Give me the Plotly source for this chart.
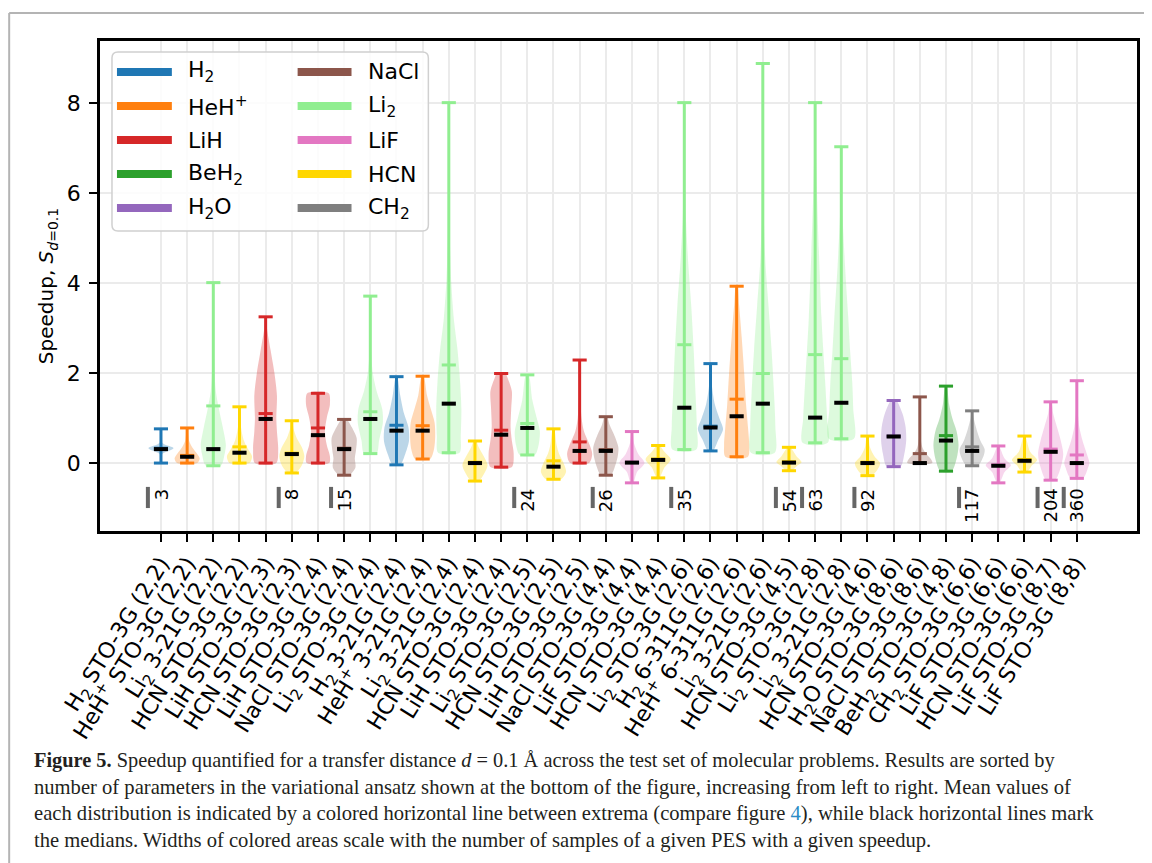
import plotly.graph_objects as go

# ---------------- data ----------------
molecules = ["H2", "HeH+", "Li2", "HCN", "LiH", "HCN", "LiH", "NaCl", "Li2", "H2", "HeH+", "Li2",
             "HCN", "LiH", "Li2", "HCN", "LiH", "NaCl", "LiF", "HCN", "Li2", "H2", "HeH+", "Li2",
             "HCN", "Li2", "Li2", "HCN", "H2O", "NaCl", "BeH2", "CH2", "LiF", "HCN", "LiF", "LiF"]
basis = ["STO-3G", "STO-3G", "3-21G", "STO-3G", "STO-3G", "STO-3G", "STO-3G", "STO-3G", "STO-3G",
         "3-21G", "3-21G", "3-21G", "STO-3G", "STO-3G", "STO-3G", "STO-3G", "STO-3G", "STO-3G",
         "STO-3G", "STO-3G", "STO-3G", "6-311G", "6-311G", "3-21G", "STO-3G", "STO-3G", "3-21G",
         "STO-3G", "STO-3G", "STO-3G", "STO-3G", "STO-3G", "STO-3G", "STO-3G", "STO-3G", "STO-3G"]
active = ["(2,2)", "(2,2)", "(2,2)", "(2,2)", "(2,3)", "(2,3)", "(2,4)", "(2,4)", "(2,4)", "(2,4)",
          "(2,4)", "(2,4)", "(2,4)", "(2,4)", "(2,5)", "(2,5)", "(2,5)", "(4,4)", "(4,4)", "(4,4)",
          "(2,6)", "(2,6)", "(2,6)", "(2,6)", "(4,5)", "(2,8)", "(2,8)", "(4,6)", "(8,6)", "(8,6)",
          "(4,8)", "(6,6)", "(6,6)", "(6,6)", "(8,7)", "(8,8)"]

s_min = [0.0, 0.0, -0.06, 0.0, 0.0, -0.22, 0.0, -0.27, 0.21, -0.04, 0.09, 0.23,
         -0.40, -0.09, 0.18, -0.36, 0.0, -0.27, -0.44, -0.33, 0.30, 0.27, 0.14, 0.23,
         -0.17, 0.45, 0.54, -0.28, -0.08, 0.0, -0.18, -0.06, -0.44, -0.20, -0.38, -0.34]
s_max = [0.76, 0.78, 4.01, 1.25, 3.25, 0.94, 1.55, 0.97, 3.71, 1.92, 1.93, 8.01,
         0.49, 1.99, 1.96, 0.76, 2.29, 1.03, 0.70, 0.39, 8.01, 2.21, 3.93, 8.88,
         0.35, 8.01, 7.03, 0.60, 1.39, 1.47, 1.71, 1.16, 0.38, 0.60, 1.36, 1.83]
s_mean = [0.33, 0.17, 1.27, 0.36, 1.10, 0.22, 0.78, 0.33, 1.14, 0.84, 0.83, 2.18,
          0.02, 0.73, 0.88, 0.05, 0.47, 0.30, 0.02, 0.09, 2.63, 0.82, 1.42, 1.99,
          0.03, 2.41, 2.32, 0.02, 0.60, 0.21, 0.61, 0.36, -0.04, 0.08, 0.31, 0.18]
s_median = [0.31, 0.14, 0.31, 0.23, 0.98, 0.20, 0.62, 0.31, 0.98, 0.72, 0.72, 1.32,
            0.00, 0.63, 0.78, -0.08, 0.27, 0.27, 0.01, 0.07, 1.23, 0.79, 1.04, 1.32,
            0.01, 1.01, 1.34, 0.00, 0.59, 0.00, 0.50, 0.27, -0.06, 0.05, 0.25, 0.00]

# violin outline: (speedup, relative half-width)
profiles = [
    [(0.0, 0.02), (0.2, 0.1), (0.33, 1.0), (0.45, 0.1), (0.76, 0.02)],
    [(0.0, 0.8), (0.1, 1.0), (0.2, 0.8), (0.35, 0.4), (0.5, 0.15), (0.78, 0.02)],
    [(-0.06, 0.6), (0.2, 0.9), (0.4, 1.0), (0.8, 0.75), (1.2, 0.45), (1.6, 0.2), (2.2, 0.08), (3.0, 0.03), (4.01, 0.01)],
    [(0.0, 0.8), (0.15, 1.0), (0.3, 0.7), (0.5, 0.35), (0.8, 0.12), (1.25, 0.02)],
    [(0.0, 0.85), (0.3, 1.0), (0.7, 0.9), (1.0, 0.85), (1.5, 0.9), (2.0, 0.7), (2.5, 0.4), (3.0, 0.1), (3.25, 0.03)],
    [(-0.22, 0.3), (-0.05, 0.8), (0.15, 1.0), (0.35, 0.8), (0.55, 0.4), (0.75, 0.15), (0.94, 0.03)],
    [(0.0, 0.9), (0.15, 0.95), (0.4, 0.7), (0.7, 0.55), (1.0, 0.7), (1.3, 0.95), (1.55, 0.85)],
    [(-0.27, 0.4), (-0.1, 0.9), (0.1, 0.85), (0.3, 0.95), (0.55, 1.0), (0.8, 0.6), (0.97, 0.2)],
    [(0.21, 0.5), (0.5, 0.7), (0.9, 1.0), (1.2, 0.95), (1.6, 0.5), (2.0, 0.2), (2.5, 0.06), (3.0, 0.02), (3.71, 0.01)],
    [(-0.04, 0.3), (0.2, 0.7), (0.5, 1.0), (0.8, 0.95), (1.1, 0.6), (1.5, 0.3), (1.92, 0.05)],
    [(0.09, 0.6), (0.3, 0.9), (0.6, 1.0), (0.9, 0.95), (1.2, 0.65), (1.5, 0.35), (1.93, 0.08)],
    [(0.23, 0.85), (0.6, 0.95), (1.2, 1.0), (1.8, 0.9), (2.5, 0.7), (3.2, 0.4), (4.0, 0.2), (5.0, 0.08), (6.0, 0.03), (8.01, 0.01)],
    [(-0.40, 0.3), (-0.2, 0.8), (-0.05, 1.0), (0.15, 0.7), (0.35, 0.3), (0.49, 0.1)],
    [(-0.09, 0.85), (0.2, 1.0), (0.5, 0.85), (0.8, 0.75), (1.2, 0.8), (1.6, 0.85), (1.9, 0.5), (1.99, 0.35)],
    [(0.18, 0.6), (0.4, 0.9), (0.7, 1.0), (1.0, 0.75), (1.4, 0.4), (1.96, 0.1)],
    [(-0.36, 0.6), (-0.2, 1.0), (0.0, 0.8), (0.2, 0.45), (0.4, 0.25), (0.76, 0.05)],
    [(0.0, 0.75), (0.2, 1.0), (0.4, 0.8), (0.7, 0.35), (1.0, 0.15), (1.5, 0.06), (2.29, 0.02)],
    [(-0.27, 0.4), (-0.1, 0.7), (0.15, 0.95), (0.35, 1.0), (0.6, 0.7), (0.85, 0.3), (1.03, 0.1)],
    [(-0.44, 0.1), (-0.2, 0.4), (0.0, 1.0), (0.2, 0.5), (0.45, 0.15), (0.70, 0.03)],
    [(-0.33, 0.1), (-0.1, 0.5), (0.08, 1.0), (0.25, 0.5), (0.39, 0.1)],
    [(0.30, 0.95), (0.8, 1.0), (1.5, 0.9), (2.5, 0.75), (3.5, 0.55), (4.5, 0.3), (5.5, 0.12), (6.5, 0.04), (8.01, 0.01)],
    [(0.27, 0.2), (0.5, 0.6), (0.75, 1.0), (1.0, 0.7), (1.3, 0.35), (1.7, 0.12), (2.21, 0.02)],
    [(0.14, 0.9), (0.4, 1.0), (0.8, 0.9), (1.3, 0.75), (2.0, 0.6), (2.8, 0.4), (3.5, 0.2), (3.93, 0.05)],
    [(0.23, 0.95), (0.8, 1.0), (1.5, 0.9), (2.5, 0.7), (3.5, 0.45), (4.5, 0.2), (5.5, 0.08), (7.0, 0.02), (8.88, 0.01)],
    [(-0.17, 0.2), (-0.05, 0.7), (0.02, 1.0), (0.15, 0.6), (0.35, 0.1)],
    [(0.45, 1.0), (1.0, 0.95), (1.8, 0.8), (2.5, 0.65), (3.25, 0.5), (4.7, 0.3), (6.2, 0.13), (7.2, 0.05), (8.01, 0.01)],
    [(0.54, 1.0), (1.2, 0.95), (1.8, 0.87), (2.5, 0.7), (3.25, 0.55), (4.36, 0.3), (5.5, 0.1), (6.2, 0.04), (7.03, 0.01)],
    [(-0.28, 0.35), (-0.1, 0.9), (0.0, 1.0), (0.15, 0.55), (0.35, 0.2), (0.60, 0.05)],
    [(-0.08, 0.55), (0.2, 0.85), (0.5, 1.0), (0.8, 0.95), (1.1, 0.7), (1.39, 0.2)],
    [(0.0, 1.0), (0.1, 0.85), (0.2, 0.5), (0.35, 0.2), (0.6, 0.05), (1.47, 0.01)],
    [(-0.18, 0.45), (0.1, 0.85), (0.4, 1.0), (0.7, 0.85), (1.0, 0.5), (1.3, 0.25), (1.71, 0.05)],
    [(-0.06, 0.45), (0.15, 0.9), (0.3, 1.0), (0.5, 0.65), (0.75, 0.35), (1.0, 0.12), (1.16, 0.03)],
    [(-0.44, 0.1), (-0.2, 0.5), (-0.05, 1.0), (0.1, 0.5), (0.38, 0.05)],
    [(-0.20, 0.2), (-0.05, 0.6), (0.07, 1.0), (0.25, 0.45), (0.60, 0.05)],
    [(-0.38, 0.35), (-0.1, 0.8), (0.2, 1.0), (0.5, 0.8), (0.8, 0.5), (1.1, 0.2), (1.36, 0.05)],
    [(-0.34, 0.5), (-0.1, 0.9), (0.0, 1.0), (0.2, 0.8), (0.5, 0.45), (0.8, 0.2), (1.2, 0.06), (1.83, 0.01)],
]

# number of ansatz parameters, shown where it changes
param_pos = [0, 5, 7, 14, 17, 20, 24, 25, 27, 31, 34, 35]
param_text = ["3", "8", "15", "24", "26", "35", "54", "63", "92", "117", "204", "360"]

legend_names = ["H2", "HeH+", "LiH", "BeH2", "H2O", "NaCl", "Li2", "LiF", "HCN", "CH2"]
legend_labels = ["H<sub>2</sub>", "HeH<sup>+</sup>", "LiH", "BeH<sub>2</sub>", "H<sub>2</sub>O",
                 "NaCl", "Li<sub>2</sub>", "LiF", "HCN", "CH<sub>2</sub>"]
mol_colors = {"H2": "#1f77b4", "HeH+": "#ff7f0e", "LiH": "#d62728", "BeH2": "#2ca02c",
              "H2O": "#9467bd", "NaCl": "#8c564b", "Li2": "#90ee90", "LiF": "#e377c2",
              "HCN": "#ffd700", "CH2": "#7f7f7f"}
mol_html = dict(zip(legend_names, legend_labels))

y_ticks = [0, 2, 4, 6, 8]

caption_lines = [
    "<b>Figure 5.</b> Speedup quantified for a transfer distance <i>d</i> = 0.1 Å across the test set of molecular problems. Results are sorted by",
    "number of parameters in the variational ansatz shown at the bottom of the figure, increasing from left to right. Mean values of",
    "each distribution is indicated by a colored horizontal line between extrema (compare figure <span style='color:#2a8bc6'>4</span>), while black horizontal lines mark",
    "the medians. Widths of colored areas scale with the number of samples of a given PES with a given speedup.",
]
caption_sizes = [20.35, 20.6, 20.6, 20.6]

# ---------------- geometry helpers (reference pixel coordinates) ----------------
OX, OY = 8, 8            # page body margin of the html page
W, H = 1152 - OX, 863 - OY
L, R, T, B = 100, 1139, 41, 531


def pxx(x):
    return (x - L) / (R - L)


def pxy(y):
    return (B - y) / (B - T)


def rgba(hexc, a):
    h = hexc.lstrip("#")
    return "rgba(%d,%d,%d,%.2f)" % (int(h[0:2], 16), int(h[2:4], 16), int(h[4:6], 16), a)


HW = 0.48   # max half width of violins
CAP = 0.27  # half width of caps

fig = go.Figure()

# violins
for i, prof in enumerate(profiles):
    c = mol_colors[molecules[i]]
    ys = [p[0] for p in prof]
    ws = [p[1] for p in prof]
    xs = [i + w * HW for w in ws] + [i - w * HW for w in ws[::-1]]
    yy = ys + ys[::-1]
    fig.add_trace(go.Scatter(x=xs + [xs[0]], y=yy + [yy[0]], mode="lines", fill="toself",
                             fillcolor=rgba(c, 0.3), line=dict(width=0, shape="spline", smoothing=0.8),
                             hoverinfo="skip", showlegend=False))

# stems, caps and means
for i in range(len(molecules)):
    c = mol_colors[molecules[i]]
    xs = [i, i, None, i - CAP, i + CAP, None, i - CAP, i + CAP, None, i - CAP, i + CAP]
    ys = [s_min[i], s_max[i], None, s_min[i], s_min[i], None, s_max[i], s_max[i], None,
          s_mean[i], s_mean[i]]
    fig.add_trace(go.Scatter(x=xs, y=ys, mode="lines", line=dict(color=c, width=3),
                             hoverinfo="skip", showlegend=False))

# medians
mx, my = [], []
for i in range(len(molecules)):
    mx += [i - CAP, i + CAP, None]
    my += [s_median[i], s_median[i], None]
fig.add_trace(go.Scatter(x=mx, y=my, mode="lines", line=dict(color="black", width=4),
                         hoverinfo="skip", showlegend=False))

shapes = []
annotations = []

# parameter count markers
for p, t in zip(param_pos, param_text):
    shapes.append(dict(type="line", xref="x", yref="y", x0=p - 0.5, x1=p - 0.5, y0=-0.53, y1=-1.0,
                       line=dict(color="#666666", width=4)))
    annotations.append(dict(x=p, y=-0.53, xref="x", yref="y", text=t, showarrow=False,
                            textangle=-90, xanchor="center", yanchor="top",
                            font=dict(family="DejaVu Sans", size=18, color="black")))

# legend (custom, two columns)
lx0, lx1, ly0, ly1, rr = 112, 429, 52, 231, 6
path = ("M %f,%f L %f,%f Q %f,%f %f,%f L %f,%f Q %f,%f %f,%f L %f,%f Q %f,%f %f,%f L %f,%f Q %f,%f %f,%f Z" % (
    pxx(lx0 + rr), pxy(ly0), pxx(lx1 - rr), pxy(ly0), pxx(lx1), pxy(ly0), pxx(lx1), pxy(ly0 + rr),
    pxx(lx1), pxy(ly1 - rr), pxx(lx1), pxy(ly1), pxx(lx1 - rr), pxy(ly1),
    pxx(lx0 + rr), pxy(ly1), pxx(lx0), pxy(ly1), pxx(lx0), pxy(ly1 - rr),
    pxx(lx0), pxy(ly0 + rr), pxx(lx0), pxy(ly0), pxx(lx0 + rr), pxy(ly0)))
shapes.append(dict(type="path", xref="paper", yref="paper", path=path,
                   fillcolor="rgba(255,255,255,0.85)", line=dict(color="#d0d0d0", width=1.5)))
row_y = [72, 106, 140, 174, 208]
col_sw = [(117, 172, 186), (298, 352, 367)]
for k, name in enumerate(legend_names):
    col, row = divmod(k, 5)
    sx0, sx1, tx = col_sw[col]
    yy = row_y[row]
    shapes.append(dict(type="line", xref="paper", yref="paper", x0=pxx(sx0), x1=pxx(sx1),
                       y0=pxy(yy), y1=pxy(yy), line=dict(color=mol_colors[name], width=8)))
    annotations.append(dict(x=pxx(tx), y=pxy(yy), xref="paper", yref="paper", text=legend_labels[k],
                            showarrow=False, xanchor="left", yanchor="middle",
                            font=dict(family="DejaVu Sans", size=22, color="black")))

# page frame (top and left)
shapes.append(dict(type="line", xref="paper", yref="paper", x0=pxx(9), x1=pxx(1160), y0=pxy(13), y1=pxy(13),
                   line=dict(color="#b4b4b4", width=2)))
shapes.append(dict(type="line", xref="paper", yref="paper", x0=pxx(9), x1=pxx(9), y0=pxy(13), y1=pxy(870),
                   line=dict(color="#b4b4b4", width=2)))

# caption
cap_y = [760, 787, 813, 840]
for line, yy, fs in zip(caption_lines, cap_y, caption_sizes):
    annotations.append(dict(x=pxx(32), y=pxy(yy), xref="paper", yref="paper", text=line,
                            showarrow=False, xanchor="left", yanchor="middle",
                            font=dict(family="Liberation Serif", size=fs, color="#231f20")))

ticktext = ["%s %s %s" % (mol_html[m], b, a) for m, b, a in zip(molecules, basis, active)]

fig.update_layout(
    width=W, height=H,
    margin=dict(l=L - OX, r=1152 - R, t=T - OY, b=(863 - B)),
    paper_bgcolor="white", plot_bgcolor="white",
    showlegend=False,
    shapes=shapes, annotations=annotations,
    font=dict(family="DejaVu Sans", color="black"),
)
fig.update_xaxes(range=[-2.33, 37.30], tickmode="array", tickvals=list(range(len(molecules))),
                 ticktext=ticktext, tickangle=-58, tickfont=dict(size=22, family="DejaVu Sans"),
                 ticks="outside", ticklen=8, tickwidth=2, tickcolor="black",
                 showgrid=True, gridcolor="#ebebeb", gridwidth=1.5, zeroline=False,
                 showline=True, linecolor="black", linewidth=2.5, mirror=True)
fig.update_yaxes(range=[-1.51, 9.38], tickmode="array", tickvals=y_ticks,
                 ticktext=[str(v) for v in y_ticks], tickfont=dict(size=22, family="DejaVu Sans"),
                 ticks="outside", ticklen=8, tickwidth=2, tickcolor="black", ticklabelstandoff=4,
                 showgrid=True, gridcolor="#ebebeb", gridwidth=1.5, zeroline=False,
                 showline=True, linecolor="black", linewidth=2.5, mirror=True,
                 title=dict(text="Speedup, <i>S</i><sub><i>d</i>=0.1</sub>",
                            font=dict(size=20, family="DejaVu Sans"), standoff=8))

fig.write_html("out.html")
